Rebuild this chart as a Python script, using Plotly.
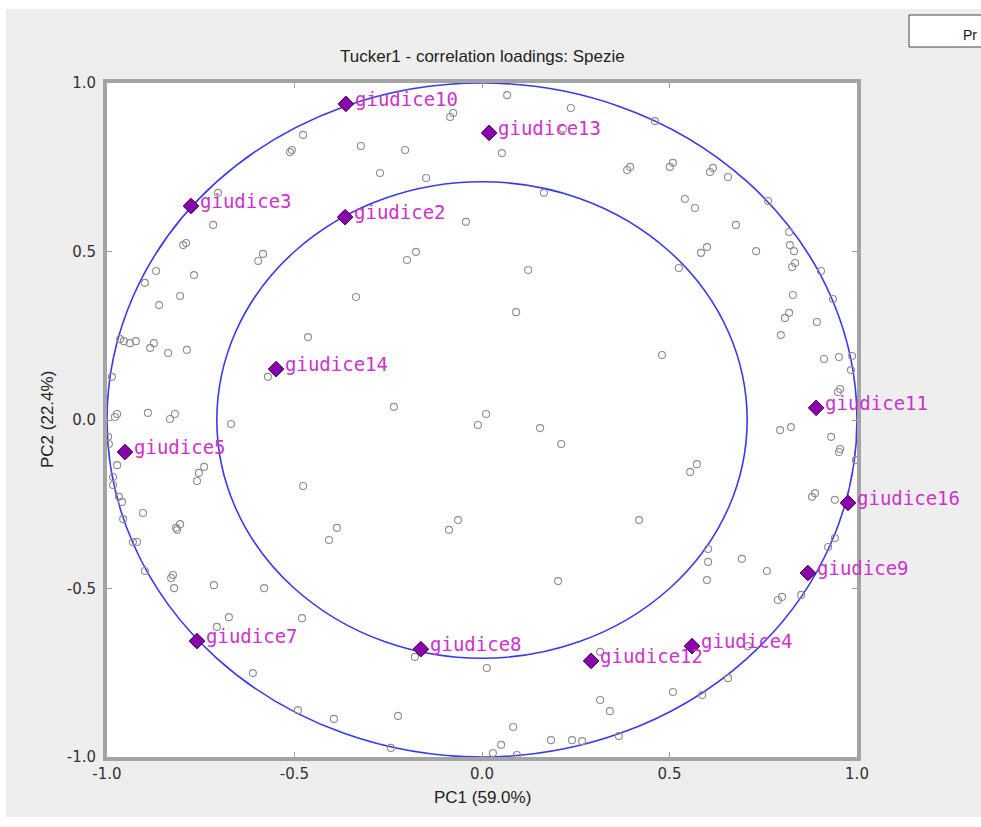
import plotly.graph_objects as go

# ---- data ----
judges = ["giudice10", "giudice13", "giudice3", "giudice2", "giudice14", "giudice11",
          "giudice5", "giudice16", "giudice9", "giudice7", "giudice8", "giudice4", "giudice12"]
judge_pc1 = [-0.363, 0.019, -0.776, -0.365, -0.549, 0.891, -0.952, 0.976, 0.869, -0.760, -0.163, 0.560, 0.291]
judge_pc2 = [0.938, 0.852, 0.635, 0.602, 0.151, 0.036, -0.095, -0.246, -0.454, -0.656, -0.680, -0.671, -0.715]

other_pc1 = [0.067, 0.237, -0.085, -0.077, -0.477, -0.512, -0.507, -0.323, -0.272, -0.717,
             -0.797, -0.789, -0.597, -0.584, -0.869, -0.768, -0.704, -0.205, 0.053, 0.216,
             -0.149, 0.165, 0.387, 0.395, 0.501, 0.509, 0.461, -0.043, -0.176, -0.200,
             0.123, 0.541, 0.568, 0.525, 0.608, 0.616, 0.656, 0.677, 0.763, 0.819,
             0.821, 0.832, 0.827, 0.835, 0.584, 0.600, 0.731, 0.904, 0.936, 0.829,
             0.808, 0.819, 0.893, 0.797, 0.480, 0.912, 0.952, 0.987, 0.984, 0.949,
             0.955, 0.795, 0.824, 0.931, 0.955, -0.899, -0.805, -0.861, -0.336, -0.965,
             -0.955, -0.939, -0.923, -0.885, -0.875, -0.837, -0.787, -0.464, -0.987, -0.571,
             -0.235, -0.979, -0.973, -0.891, -0.832, -0.819, -0.669, -0.997, -0.995, -0.973,
             -0.741, -0.755, -0.760, -0.984, -0.984, -0.968, -0.960, -0.477, -0.904, -0.957,
             -0.805, -0.816, -0.387, -0.408, 0.952, 0.997, 0.573, 0.555, 0.880, 0.888,
             0.941, 0.941, 0.923, 0.603, 0.603, 0.693, 0.760, 0.600, 0.800, 0.789,
             0.851, 0.709, 0.509, 0.656, -0.813, -0.931, -0.920, -0.824, -0.829, -0.821,
             -0.715, -0.581, -0.675, -0.480, -0.707, -0.611, -0.491, -0.395, -0.224, -0.088,
             0.203, -0.179, 0.013, 0.315, 0.315, 0.341, 0.365, 0.083, 0.051, 0.184,
             0.240, 0.267, 0.029, 0.093, -0.011, 0.011, 0.155, 0.211, 0.091, 0.419,
             -0.064, -0.899, 0.587, -0.243]
other_pc2 = [0.964, 0.926, 0.899, 0.911, 0.846, 0.795, 0.801, 0.813, 0.733, 0.579,
             0.519, 0.525, 0.472, 0.493, 0.442, 0.430, 0.674, 0.801, 0.792, 0.864,
             0.718, 0.674, 0.742, 0.751, 0.751, 0.763, 0.887, 0.588, 0.499, 0.475,
             0.445, 0.656, 0.629, 0.451, 0.736, 0.748, 0.721, 0.579, 0.650, 0.558,
             0.519, 0.501, 0.454, 0.466, 0.496, 0.513, 0.501, 0.442, 0.359, 0.371,
             0.303, 0.318, 0.291, 0.252, 0.193, 0.181, 0.187, 0.190, 0.148, 0.083,
             0.092, -0.030, -0.021, -0.050, -0.086, 0.407, 0.368, 0.341, 0.365, 0.240,
             0.234, 0.228, 0.234, 0.214, 0.228, 0.199, 0.208, 0.246, 0.128, 0.128,
             0.039, 0.009, 0.018, 0.021, 0.003, 0.018, -0.012, -0.050, -0.071, -0.134,
             -0.139, -0.157, -0.181, -0.169, -0.193, -0.228, -0.243, -0.196, -0.276, -0.294,
             -0.309, -0.320, -0.320, -0.356, -0.095, -0.119, -0.131, -0.154, -0.228, -0.217,
             -0.237, -0.350, -0.377, -0.383, -0.421, -0.412, -0.448, -0.475, -0.525, -0.534,
             -0.519, -0.671, -0.807, -0.766, -0.326, -0.362, -0.362, -0.460, -0.469, -0.499,
             -0.490, -0.499, -0.585, -0.588, -0.614, -0.751, -0.861, -0.887, -0.878, -0.326,
             -0.478, -0.703, -0.736, -0.688, -0.831, -0.864, -0.938, -0.911, -0.964, -0.950,
             -0.950, -0.953, -0.988, -0.994, -0.015, 0.018, -0.024, -0.071, 0.320, -0.297,
             -0.297, -0.448, -0.816, -0.973]

circle_radii = [1.0, 0.7071]
tick_vals = [-1.0, -0.5, 0.0, 0.5, 1.0]
tick_text = ["-1.0", "-0.5", "0.0", "0.5", "1.0"]
title_text = "Tucker1 - correlation loadings: Spezie"
x_title = "PC1 (59.0%)"
y_title = "PC2 (22.4%)"

# ---- figure ----
W, H = 981, 827
L, R, T, B = 107, 124, 83, 70
pw, ph = W - L - R, H - T - B


def px2paper_x(px):
    return (px - L) / pw


def px2paper_y(py):
    return (H - B - py) / ph


fig = go.Figure()

fig.add_trace(go.Scatter(
    x=other_pc1, y=other_pc2, mode="markers",
    marker=dict(symbol="circle-open", size=7, color="#8e8e8e", line=dict(width=1.1)),
    hoverinfo="skip", showlegend=False, cliponaxis=False,
))
fig.add_trace(go.Scatter(
    x=judge_pc1, y=judge_pc2, mode="markers",
    marker=dict(symbol="diamond", size=12, color="#8a00ac",
                line=dict(width=1, color="#3a0040")),
    text=judges, hoverinfo="text", showlegend=False, cliponaxis=False,
))

annotations = []
for name, xv, yv in zip(judges, judge_pc1, judge_pc2):
    annotations.append(dict(
        x=xv, y=yv, xref="x", yref="y", text=name, showarrow=False,
        xanchor="left", yanchor="middle", xshift=7, yshift=5,
        font=dict(family="DejaVu Sans Mono", size=19, color="#cc33cc"),
    ))

annotations.append(dict(
    x=0.5, y=px2paper_y(57), xref="paper", yref="paper", text=title_text,
    showarrow=False, xanchor="center", yanchor="middle",
    font=dict(family="Liberation Sans Narrow, Arial Narrow, Liberation Sans", size=17, color="#222222"),
))
annotations.append(dict(
    x=0.5, y=px2paper_y(797), xref="paper", yref="paper", text=x_title,
    showarrow=False, xanchor="center", yanchor="middle",
    font=dict(family="Liberation Sans Narrow, Arial Narrow, Liberation Sans", size=17, color="#222222"),
))
annotations.append(dict(
    x=px2paper_x(47), y=0.5, xref="paper", yref="paper", text=y_title, textangle=-90,
    showarrow=False, xanchor="center", yanchor="middle",
    font=dict(family="Liberation Sans Narrow, Arial Narrow, Liberation Sans", size=17, color="#222222"),
))
annotations.append(dict(
    x=px2paper_x(961), y=px2paper_y(35), xref="paper", yref="paper", text="Pr",
    showarrow=False, xanchor="left", yanchor="middle",
    font=dict(family="Liberation Sans", size=14, color="#111111"),
))

shapes = []
for r in circle_radii:
    shapes.append(dict(type="circle", xref="x", yref="y", x0=-r, x1=r, y0=-r, y1=r,
                       line=dict(color="#3a3ae8", width=1.6), layer="below"))
# white strips outside the grey panel
shapes.append(dict(type="rect", xref="paper", yref="paper",
                   x0=px2paper_x(-5), x1=px2paper_x(990), y0=px2paper_y(9), y1=px2paper_y(-5),
                   fillcolor="white", line=dict(width=0), layer="below"))
shapes.append(dict(type="rect", xref="paper", yref="paper",
                   x0=px2paper_x(-5), x1=px2paper_x(6), y0=px2paper_y(830), y1=px2paper_y(-5),
                   fillcolor="white", line=dict(width=0), layer="below"))
shapes.append(dict(type="rect", xref="paper", yref="paper",
                   x0=px2paper_x(-5), x1=px2paper_x(990), y0=px2paper_y(830), y1=px2paper_y(817),
                   fillcolor="white", line=dict(width=0), layer="below"))
# partial button at top right
shapes.append(dict(type="rect", xref="paper", yref="paper",
                   x0=px2paper_x(909), x1=px2paper_x(995), y0=px2paper_y(47), y1=px2paper_y(15),
                   fillcolor="white", line=dict(width=1, color="#444444"), layer="below"))

axis_common = dict(
    range=[-1, 1], tickvals=tick_vals, ticktext=tick_text,
    showgrid=False, zeroline=False,
    showline=True, linecolor="#a4a4a4", linewidth=4, mirror="ticks",
    ticks="inside", ticklen=5, tickcolor="#999999", tickwidth=1,
    tickfont=dict(family="DejaVu Sans", size=15, color="#333333"),
    fixedrange=True,
)

fig.update_layout(
    width=W, height=H, autosize=False,
    margin=dict(l=L, r=R, t=T, b=B, pad=0),
    paper_bgcolor="#eeeeee", plot_bgcolor="white",
    xaxis=dict(**axis_common, ticklabelstandoff=0),
    yaxis=dict(**axis_common, ticklabelstandoff=4),
    annotations=annotations, shapes=shapes,
    showlegend=False,
)

fig.write_html("out.html")
